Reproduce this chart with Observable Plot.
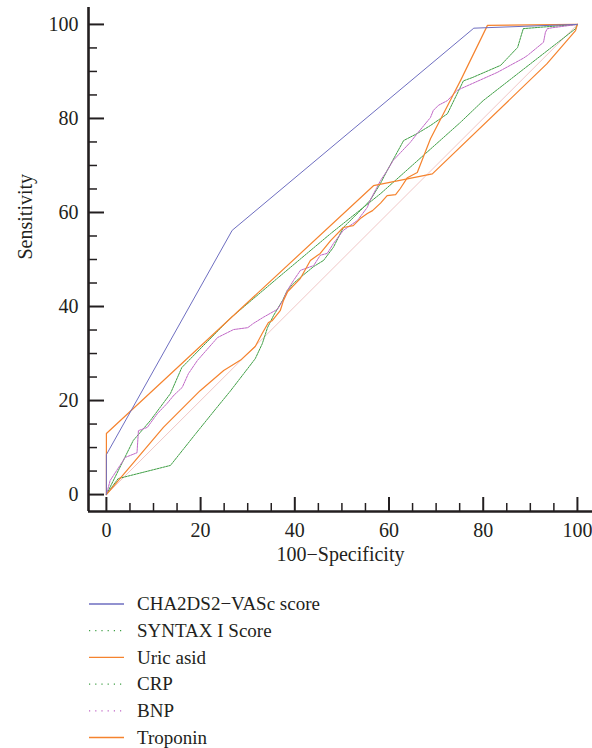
<!DOCTYPE html>
<html><head><meta charset="utf-8">
<script src="https://cdn.jsdelivr.net/npm/d3@7"></script>
<script src="https://cdn.jsdelivr.net/npm/@observablehq/plot@0.6"></script>
<style>
body{margin:0;background:#fff;}
#legend text{font-family:"Liberation Serif",serif;}
</style>
</head><body><div id="chart"></div><div id="legend"></div>
<script>
// Series (x = 100-Specificity, y = Sensitivity)
const chaVasc = [[0,0],[0,8.5],[26.7,56.2],[78,99.2],[94,99.8],[100,100]];
const syntax = [[0,0],[5.7,11.5],[9.3,15.7],[13.6,21.5],[16,27],[26.3,37.5],[36.3,46],[47.6,55.5],[58.2,64],[75.2,79.2],[80,83.8],[99.6,99.1],[100,100]];
const uricAsid = [[0,0],[0,13],[56.7,65.7],[69.2,68.2],[93.5,91.6],[99.6,98.7],[100,100]];
const crp = [[0,0],[2.5,3.4],[13.6,6.2],[19,13],[23.6,18.7],[26.3,22],[31.6,28.9],[33.1,32.1],[34.2,35.5],[35.5,38.1],[37.4,41.3],[38.4,43.4],[39.7,44.9],[41.2,46.2],[44,48.5],[46.1,49.8],[48.2,52.6],[50.3,56.8],[52.4,58.9],[54.6,61.1],[56,62.6],[58.2,66.2],[59.6,68.9],[63.1,75.3],[66,76.8],[68.8,78.5],[72.4,81],[75.8,88],[77.7,88.7],[83.7,91.3],[87.3,95.1],[88.5,99.1],[92.1,99.4],[100,100]];
const bnp = [[0,0],[0.8,3],[4,7.9],[6.5,8.9],[6.8,13.6],[8.7,14.3],[10.8,17.2],[12.9,19.4],[14.3,21.1],[16.1,22.8],[17.4,25.7],[19.3,28.5],[23.6,33.4],[27,35.1],[30,35.5],[31.2,36.4],[33.3,37.7],[36.3,39.4],[37.5,41.3],[38.4,43.4],[39.7,45.5],[41.2,47.7],[44,48.7],[45.4,50.9],[46.9,51.3],[48.2,53.4],[50.3,56.2],[53.3,58.3],[55.4,61.1],[56,62.6],[58.2,66.8],[59.6,68.9],[60.9,71.1],[64.5,74.9],[66,76.8],[68.8,80.2],[69.4,81.7],[70.5,82.8],[72.4,83.8],[74.5,86],[83,89.8],[88.5,92.8],[89.4,93.4],[92.8,96.2],[93.2,98.3],[93.6,99.1],[94.7,99.3],[100,100]];
const troponin = [[0,0],[12.1,14.3],[19.9,22.1],[24.9,26.4],[28.5,28.6],[31.6,31.5],[33.1,34.3],[34.4,36.6],[35.2,37],[36.9,39.1],[37.6,41.3],[38.5,43.2],[41.2,46],[43.3,49.8],[45.4,51.3],[47.6,54],[50.3,56.8],[52.4,57.2],[53.9,58.7],[55.4,59.8],[56.5,60.4],[58.2,62],[59.6,63.6],[61.4,63.8],[62.4,65.1],[63.9,67.4],[66,68.5],[68.8,75.7],[73,83.8],[75.2,88.1],[80.9,99.8],[100,100]];
const reference = [[0,0],[100,100]];

const legendNames = ["CHA2DS2\u2212VASc score","SYNTAX I Score","Uric asid","CRP","BNP","Troponin"];
const legendColors = ["#6e6ec0","#3f9f45","#f5832e","#3f9f45","#c066c6","#f5832e"];
const legendDash = [null,"1.2 5",null,"1.2 5","1.2 5",null];

const xDomain = [-3.8, 103.2];
const yDomain = [-3.6, 103.6];
const majorTicks = [0,20,40,60,80,100];
const minorTicks = [5,10,15,25,30,35,45,50,55,65,70,75,85,90,95];
const ink = "#231f20";

const seriesList = [
  {data: reference, color: "#f0c6c6", dash: null, w: 1},
  {data: syntax, color: legendColors[1], dash: "2 1", w: 1},
  {data: crp, color: legendColors[3], dash: "2 1", w: 1},
  {data: bnp, color: legendColors[4], dash: "2 1", w: 1},
  {data: uricAsid, color: legendColors[2], dash: null, w: 1.2},
  {data: troponin, color: legendColors[5], dash: null, w: 1.2},
  {data: chaVasc, color: legendColors[0], dash: null, w: 1}
];

const plot = Plot.plot({
  width: 592, height: 566,
  marginLeft: 88, marginRight: 0, marginTop: 7, marginBottom: 55,
  x: {domain: xDomain},
  y: {domain: yDomain},
  style: {fontFamily: "'Liberation Serif', serif", fontSize: "20px", color: ink, background: "white"},
  marks: [
    ...seriesList.map(s => Plot.line(s.data, {x: d => d[0], y: d => d[1], stroke: s.color, strokeWidth: s.w, strokeDasharray: s.dash})),
    Plot.ruleX([xDomain[0]], {stroke: ink, strokeWidth: 2.6}),
    Plot.ruleY([yDomain[0]], {stroke: ink, strokeWidth: 2.6}),
    Plot.axisX({ticks: majorTicks, tickSize: 14, dy: -14, fill: "none", label: null, strokeWidth: 2, stroke: ink}),
    Plot.axisX({ticks: minorTicks, tickSize: 8, dy: -8, fill: "none", label: null, strokeWidth: 1.5, stroke: ink}),
    Plot.axisX({ticks: majorTicks, tickSize: 0, tickPadding: 11, label: null, fill: ink}),
    Plot.axisY({ticks: majorTicks, tickSize: 16, dx: 16, fill: "none", label: null, strokeWidth: 2, stroke: ink}),
    Plot.axisY({ticks: minorTicks, tickSize: 9, dx: 9, fill: "none", label: null, strokeWidth: 1.5, stroke: ink}),
    Plot.axisY({ticks: majorTicks, tickSize: 0, tickPadding: 10, label: null, fill: ink}),
    Plot.text(["Sensitivity"], {text: d => d, frameAnchor: "left", dx: -63, rotate: -90, fill: ink}),
    Plot.text(["100\u2212Specificity"], {text: d => d, frameAnchor: "bottom", dy: 35, lineAnchor: "top", fill: ink})
  ]
});
document.getElementById("chart").appendChild(plot);

// Legend below the plot
const lg = d3.select("#legend").append("svg").attr("width", 592).attr("height", 182).style("display","block");
legendNames.forEach((name, i) => {
  const y = 38 + i * 26.7;
  lg.append("line").attr("x1", 89).attr("x2", 124).attr("y1", y).attr("y2", y)
    .attr("stroke", legendColors[i]).attr("stroke-width", 1.3)
    .attr("stroke-dasharray", legendDash[i]);
  lg.append("text").attr("x", 137).attr("y", y).attr("dy", "0.33em")
    .attr("font-size", 19).attr("fill", ink).text(name);
});
</script>
</body></html>
